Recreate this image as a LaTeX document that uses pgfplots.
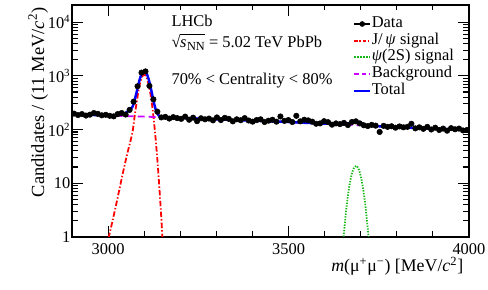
\documentclass[border=0pt]{standalone}
\usepackage{fontspec}
\setmainfont{Liberation Serif}
\usepackage{pgfplots}
\pgfplotsset{compat=1.18}
\definecolor{jpsired}{rgb}{1,0,0}
\definecolor{psigreen}{rgb}{0.1,0.72,0.1}
\definecolor{bkgmag}{rgb}{0.8,0,1}
\definecolor{totblue}{rgb}{0,0,1}
\newcommand{\sqrtsnn}{\setbox0\hbox{√}\mbox{\raisebox{0pt}{√}\kern-0.4pt\vbox{\hrule height 0.5pt\kern\dimexpr\ht0-5.9pt\relax\hbox{\textit{s}\kern0.5pt{\fontsize{9}{9}\selectfont\raisebox{-2.2pt}{NN}}}}}}
\begin{document}
\fontsize{12}{14}\selectfont
\begin{tikzpicture}
\begin{axis}[
  name=ax,
  scale only axis,
  width=289.8pt, height=169.3pt,
  xmin=2900, xmax=4000,
  ymode=log, ymin=1, ymax=21000,
  xtick={3000,3500,4000},
  minor x tick num=4,
  ytick={1,10,100,1000,10000},
  yticklabels={1,10,10\textsuperscript{2},10\textsuperscript{3},10\textsuperscript{4}},
  /pgf/number format/assume math mode=true,
  xticklabel={\pgfmathprintnumber[1000 sep={}]{\tick}},
  xticklabel style={yshift=-1pt},
  yticklabel style={xshift=3pt},
  tick align=inside,
  major tick length=8pt,
  minor tick length=4pt,
  axis line style={line width=1.1pt},
  every tick/.style={black, line width=0.8pt},
  tick label style={font=\fontsize{12}{14}\selectfont},
  xlabel={\textit{m}(μ\textsuperscript{+}μ\textsuperscript{−}) [MeV/\textit{c}\textsuperscript{2}]},
  xlabel style={at={(axis description cs:1,0)}, anchor=north east, yshift=-11pt, font=\fontsize{13}{15}\selectfont},
  ylabel={Candidates / (11 MeV/\textit{c}\textsuperscript{2})},
  ylabel style={at={(axis description cs:-0.06,0.99)}, anchor=south east, font=\fontsize{13.5}{15}\selectfont, inner sep=0pt},
  legend style={at={(axis description cs:0.708,0.955)}, anchor=north west, draw=none, fill=none,
    font=\fontsize{12}{12}\selectfont, row sep=0pt, inner sep=0pt,
    nodes={text height=8.2pt, text depth=3pt, inner sep=0.5pt}},
  legend cell align=left,
  clip=true,
]
% Data
\addplot[only marks, mark=*, mark size=2pt, black,
  legend image code/.code={\draw[black, line width=0.8pt] (0cm,0cm) -- (0.4cm,0cm); \fill[black] (0.2cm,0cm) circle (1.8pt);}]
 coordinates {
(2905.5,198)(2916.5,186)(2927.5,194)(2938.5,182)(2949.5,189)(2960.5,203)(2971.5,196)(2982.5,184)(2993.5,188)(3004.5,180)
(3015.5,176)(3026.5,194)(3037.5,203)(3048.5,190)(3059.5,232)(3070.5,330)(3081.5,640)(3092.5,1150)(3103.5,1210)(3114.5,650)
(3125.5,365)(3136.5,215)(3147.5,168)(3158.5,172)(3169.5,160)(3180.5,170)(3191.5,163)(3202.5,158)(3213.5,174)(3224.5,152)
(3235.5,166)(3246.5,143)(3257.5,162)(3268.5,155)(3279.5,160)(3290.5,148)(3301.5,168)(3312.5,150)(3323.5,165)(3334.5,158)
(3345.5,142)(3356.5,155)(3367.5,149)(3378.5,163)(3389.5,147)(3400.5,140)(3411.5,150)(3422.5,155)(3433.5,138)(3444.5,146)
(3455.5,152)(3466.5,140)(3477.5,175)(3488.5,145)(3499.5,150)(3510.5,138)(3521.5,180)(3532.5,142)(3543.5,152)(3554.5,148)
(3565.5,140)(3576.5,128)(3587.5,130)(3598.5,143)(3609.5,137)(3620.5,123)(3631.5,130)(3642.5,126)(3653.5,133)(3664.5,121)
(3675.5,138)(3686.5,142)(3697.5,130)(3708.5,120)(3719.5,116)(3730.5,122)(3741.5,118)(3752.5,90)(3763.5,117)(3774.5,112)
(3785.5,115)(3796.5,108)(3807.5,114)(3818.5,110)(3829.5,112)(3840.5,128)(3851.5,105)(3862.5,110)(3873.5,103)(3884.5,112)
(3895.5,100)(3906.5,108)(3917.5,98)(3928.5,104)(3939.5,95)(3950.5,106)(3961.5,101)(3972.5,104)(3983.5,96)(3994.5,98)
};
\addlegendentry{Data}
% J/psi signal
\addplot[jpsired, line width=1.3pt, dash pattern=on 4pt off 1.5pt on 1pt off 1.5pt, smooth, tension=0.4,
  legend image code/.code={\draw[jpsired, line width=1.3pt, dash pattern=on 2.5pt off 1.2pt on 1pt off 1.2pt] (0cm,0cm) -- (0.4cm,0cm);}]
 coordinates {
(2994,0.6)(3002,1.0)(3010,1.7)(3020,3.4)(3030,7)(3040,14.5)(3050,29)(3055,40)(3060,54)(3064,70)(3068,92)
(3072,148)(3076,235)(3080,351)(3084,520)(3088,707)(3092,881)(3096,1005)(3100,1050)(3104,1005)(3108,881)
(3112,707)(3116,520)(3120,351)(3124,216)(3128,122)(3132,63)(3136,30)(3140,13)(3144,5.2)(3148,1.9)(3152,0.63)
};
\addlegendentry{J/\,\textit{ψ} signal}
% psi(2S) signal
\addplot[psigreen, line width=1.3pt, dash pattern=on 1pt off 1pt, smooth,
  legend image code/.code={\draw[psigreen, line width=1.4pt, dash pattern=on 1.2pt off 0.9pt] (0cm,0cm) -- (0.4cm,0cm);}]
 coordinates {
(3647,0.35)(3652,0.92)(3657,2.1)(3662,4.3)(3667,7.6)(3672,11.8)(3677,16.3)(3682,19.7)(3687,21)
(3692,19.7)(3697,16.3)(3702,11.8)(3707,7.6)(3712,4.3)(3717,2.1)(3722,0.92)(3727,0.35)
};
\addlegendentry{\textit{ψ}(2S) signal}
% Background
\addplot[bkgmag, line width=1.3pt, dash pattern=on 5pt off 3pt,
  legend image code/.code={\draw[bkgmag, line width=1.3pt, dash pattern=on 3pt off 2.5pt] (0cm,0cm) -- (0.4cm,0cm);}]
 coordinates {
(2900,192)(2950,187)(3000,183)(3050,178)(3100,174)(3150,169)(3200,165)(3250,160)(3300,155)(3350,150)
(3400,146)(3450,142)(3500,138)(3550,133)(3600,129)(3650,124)(3700,120)(3750,115)(3800,111)(3850,107)
(3900,104)(3950,101)(4000,98)
};
\addlegendentry{Background}
% Total
\addplot[totblue, line width=1.8pt, smooth, tension=0.4,
  legend image code/.code={\draw[totblue, line width=1.6pt] (0cm,0cm) -- (0.4cm,0cm);}]
 coordinates {
(2900,192)(2950,187)(3000,184)(3020,184)(3040,194)(3050,207)(3055,218)(3060,231)(3064,247)(3068,268)
(3072,324)(3076,411)(3080,526)(3084,695)(3088,882)(3092,1055)(3096,1179)(3100,1224)(3104,1179)(3108,1054)
(3112,880)(3116,693)(3120,523)(3124,388)(3128,294)(3132,234)(3136,201)(3140,183)(3144,175)(3148,172)
(3152,169)(3200,165)(3250,160)(3300,155)(3350,150)(3400,146)(3450,142)(3500,138)(3550,133)(3600,129)
(3640,125)(3650,125)(3657,125.6)(3662,127.3)(3667,130)(3672,134)(3677,138)(3682,141)(3687,141.5)(3692,140)
(3697,136)(3702,131)(3707,126)(3712,122)(3717,119.6)(3722,118)(3730,117)(3750,115)(3800,111)(3850,107)
(3900,104)(3950,101)(4000,98)
};
\addlegendentry{Total}
\node[anchor=base west, inner sep=0pt] at (axis description cs:0.25,0.905) {LHCb};
\node[anchor=base west, inner sep=0pt] at (axis description cs:0.25,0.815) {\sqrtsnn{} = 5.02 TeV PbPb};
\node[anchor=base west, inner sep=0pt] at (axis description cs:0.25,0.655) {70\% < Centrality < 80\%};
\end{axis}
\pgfresetboundingbox
\useasboundingbox ([shift={(-52.6pt,-38.7pt)}]ax.south west) rectangle ([shift={(13.9pt,3.6pt)}]ax.north east);
\end{tikzpicture}
\end{document}
